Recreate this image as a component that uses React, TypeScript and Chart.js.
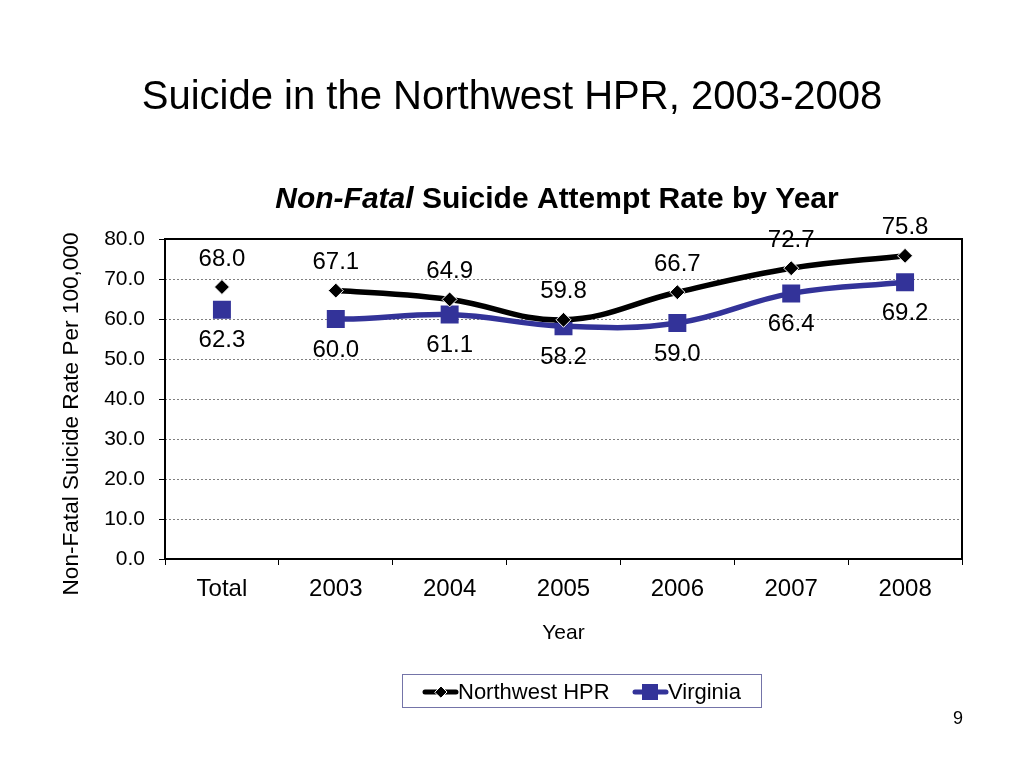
import React, { useEffect, useRef } from 'react';
import { Chart, registerables } from 'chart.js';

Chart.register(...registerables);

const categories = ['Total', '2003', '2004', '2005', '2006', '2007', '2008'];
const northwestHPR = [68.0, 67.1, 64.9, 59.8, 66.7, 72.7, 75.8];
const virginia = [62.3, 60.0, 61.1, 58.2, 59.0, 66.4, 69.2];
const seriesNames = ['Northwest HPR', 'Virginia'];
const yMin = 0;
const yMax = 80;
const yStep = 10;

const chartTitle = 'Suicide in the Northwest HPR, 2003-2008';
const subtitleItalic = 'Non-Fatal';
const subtitleRest = ' Suicide Attempt Rate by Year';
const xAxisTitle = 'Year';
const yAxisTitle = 'Non-Fatal Suicide Rate Per 100,000';
const pageNumber = '9';

const FONT = '"Liberation Sans", Arial, Helvetica, sans-serif';
const NW_COLOR = '#000000';
const VA_COLOR = '#333399';

function drawDiamond(ctx: CanvasRenderingContext2D, x: number, y: number, r: number) {
  ctx.beginPath();
  ctx.moveTo(x - r, y);
  ctx.lineTo(x, y - r);
  ctx.lineTo(x + r, y);
  ctx.lineTo(x, y + r);
  ctx.closePath();
  ctx.fillStyle = NW_COLOR;
  ctx.fill();
  ctx.strokeStyle = '#ffffff';
  ctx.lineWidth = 1;
  ctx.stroke();
}

const decorPlugin = {
  id: 'decor',
  beforeDatasetsDraw(chart: any) {
    const { ctx, chartArea } = chart;
    ctx.save();
    ctx.strokeStyle = '#000';
    ctx.lineWidth = 2;
    ctx.strokeRect(chartArea.left, chartArea.top, chartArea.right - chartArea.left, chartArea.bottom - chartArea.top);
    ctx.restore();
  },
  afterDatasetsDraw(chart: any) {
    const { ctx } = chart;
    ctx.save();
    ctx.fillStyle = '#000';
    ctx.font = `24px ${FONT}`;
    ctx.textAlign = 'center';
    ctx.textBaseline = 'middle';
    const nwMeta = chart.getDatasetMeta(0);
    nwMeta.data.forEach((pt: any, i: number) => {
      ctx.fillText(northwestHPR[i].toFixed(1), pt.x, pt.y - 28);
    });
    const vaMeta = chart.getDatasetMeta(1);
    vaMeta.data.forEach((pt: any, i: number) => {
      ctx.fillText(virginia[i].toFixed(1), pt.x, pt.y + 31);
    });
    ctx.restore();
  },
  afterDraw(chart: any) {
    const { ctx, chartArea } = chart;
    ctx.save();
    ctx.fillStyle = '#000';

    // Main title
    ctx.font = `40px ${FONT}`;
    ctx.textAlign = 'center';
    ctx.textBaseline = 'alphabetic';
    ctx.fillText(chartTitle, 512, 109);

    // Subtitle (bold italic + bold)
    ctx.textAlign = 'left';
    const fItal = `italic bold 30px ${FONT}`;
    const fBold = `bold 30px ${FONT}`;
    ctx.font = fItal;
    const w1 = ctx.measureText(subtitleItalic).width;
    ctx.font = fBold;
    const w2 = ctx.measureText(subtitleRest).width;
    const sx = 557 - (w1 + w2) / 2;
    ctx.font = fItal;
    ctx.fillText(subtitleItalic, sx, 208);
    ctx.font = fBold;
    ctx.fillText(subtitleRest, sx + w1, 208);

    // X axis title
    ctx.font = `21px ${FONT}`;
    ctx.textAlign = 'center';
    ctx.fillText(xAxisTitle, (chartArea.left + chartArea.right) / 2, 639);

    // Y axis title
    ctx.save();
    ctx.translate(78, 414);
    ctx.rotate(-Math.PI / 2);
    ctx.font = `22.6px ${FONT}`;
    ctx.textAlign = 'center';
    ctx.fillText(yAxisTitle, 0, 0);
    ctx.restore();

    // Legend
    ctx.strokeStyle = '#7474a8';
    ctx.lineWidth = 1;
    ctx.strokeRect(402.5, 674.5, 359, 33);
    const ly = 692;
    ctx.lineCap = 'round';
    ctx.strokeStyle = NW_COLOR;
    ctx.lineWidth = 5;
    ctx.beginPath();
    ctx.moveTo(425, ly);
    ctx.lineTo(456, ly);
    ctx.stroke();
    drawDiamond(ctx, 441, ly, 6);
    ctx.strokeStyle = VA_COLOR;
    ctx.lineWidth = 5;
    ctx.beginPath();
    ctx.moveTo(635, ly);
    ctx.lineTo(666, ly);
    ctx.stroke();
    ctx.fillStyle = VA_COLOR;
    ctx.fillRect(650 - 8, ly - 8, 16, 16);
    ctx.fillStyle = '#000';
    ctx.font = `22px ${FONT}`;
    ctx.textAlign = 'left';
    ctx.fillText(seriesNames[0], 458, 699);
    ctx.fillText(seriesNames[1], 668, 699);

    // Page number
    ctx.font = `18px ${FONT}`;
    ctx.textAlign = 'center';
    ctx.fillText(pageNumber, 958, 724);
    ctx.restore();
  },
};

export default function App() {
  const canvasRef = useRef<HTMLCanvasElement | null>(null);

  useEffect(() => {
    const canvas = canvasRef.current;
    if (!canvas) return;
    Chart.defaults.font.family = FONT;
    Chart.defaults.color = '#000';
    const hideFirst = (color: string) => (ctx: any) => (ctx.p0DataIndex === 0 ? 'rgba(0,0,0,0)' : color);
    const chart = new Chart(canvas, {
      type: 'line',
      data: {
        labels: categories,
        datasets: [
          {
            label: seriesNames[0],
            data: northwestHPR,
            borderColor: NW_COLOR,
            borderWidth: 5.5,
            tension: 0.4,
            pointStyle: 'rectRot',
            pointRadius: 7.5,
            pointHoverRadius: 7.5,
            pointBackgroundColor: NW_COLOR,
            pointBorderColor: '#ffffff',
            pointBorderWidth: 1,
            segment: { borderColor: hideFirst(NW_COLOR) },
          },
          {
            label: seriesNames[1],
            data: virginia,
            borderColor: VA_COLOR,
            borderWidth: 5.5,
            tension: 0.4,
            pointStyle: 'rect',
            pointRadius: 12.7,
            pointHoverRadius: 12.7,
            pointBackgroundColor: VA_COLOR,
            pointBorderColor: VA_COLOR,
            pointBorderWidth: 0,
            segment: { borderColor: hideFirst(VA_COLOR) },
          },
        ],
      },
      options: {
        responsive: false,
        animation: false,
        events: [],
        layout: { padding: { left: 0, top: 239, right: 62, bottom: 0 } },
        plugins: {
          legend: { display: false },
          title: { display: false },
          tooltip: { enabled: false },
        },
        scales: {
          x: {
            type: 'category',
            offset: true,
            border: { display: false },
            grid: {
              display: true,
              offset: true,
              drawOnChartArea: false,
              drawTicks: true,
              tickLength: 6,
              tickColor: '#000',
              tickWidth: 1,
            },
            ticks: {
              font: { size: 24, family: FONT },
              color: '#000',
              padding: 10,
              maxRotation: 0,
            },
            afterFit: (scale: any) => {
              scale.height = 209;
            },
          },
          y: {
            min: yMin,
            max: yMax,
            border: { display: false, dash: [2, 2] },
            grid: {
              color: '#808080',
              lineWidth: 1,
              drawTicks: true,
              tickLength: 6,
              tickColor: '#000',
              tickWidth: 1,
              tickBorderDash: [],
            },
            ticks: {
              stepSize: yStep,
              font: { size: 21, family: FONT },
              color: '#000',
              padding: 14,
              callback: (v: any) => Number(v).toFixed(1),
            },
            afterFit: (scale: any) => {
              scale.width = 165;
            },
          },
        },
      },
      plugins: [decorPlugin],
    } as any);
    return () => chart.destroy();
  }, []);

  return (
    <div style={{ position: 'absolute', left: 0, top: 0, width: 1024, height: 768, background: '#fff' }}>
      <canvas ref={canvasRef} width={1024} height={768} style={{ display: 'block', width: 1024, height: 768 }} />
    </div>
  );
}
